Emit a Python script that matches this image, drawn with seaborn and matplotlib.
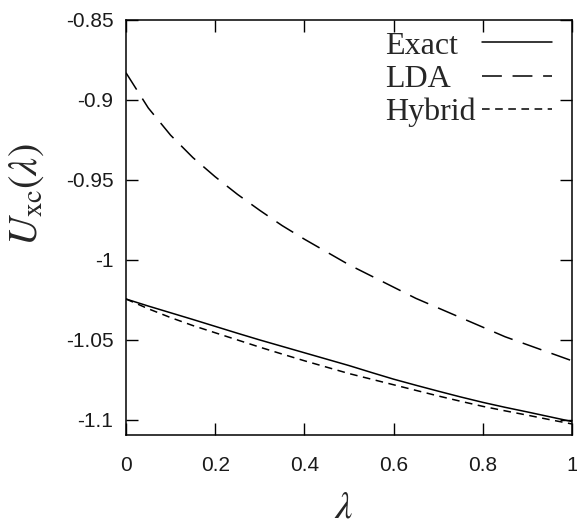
import numpy as np
import pandas as pd
import matplotlib
matplotlib.use("Agg")
import matplotlib.pyplot as plt
import seaborn as sns

# ---- data ----
lam = [0.0, 0.05, 0.1, 0.15, 0.2, 0.25, 0.3, 0.35, 0.4, 0.45, 0.5,
       0.55, 0.6, 0.65, 0.7, 0.75, 0.8, 0.85, 0.9, 0.95, 1.0]
exact = [-1.0244, -1.0288, -1.0330, -1.0372, -1.0415, -1.0458, -1.0500, -1.0540,
         -1.0580, -1.0620, -1.0660, -1.0703, -1.0745, -1.0783, -1.0820, -1.0856,
         -1.0890, -1.0921, -1.0950, -1.0980, -1.1010]
lda = [-0.883, -0.905, -0.922, -0.936, -0.948, -0.959, -0.969, -0.9785, -0.987,
       -0.995, -1.003, -1.010, -1.017, -1.024, -1.030, -1.036, -1.042, -1.048,
       -1.053, -1.058, -1.063]
hybrid = [-1.0244, -1.0305, -1.0360, -1.0410, -1.0455, -1.0500, -1.0545, -1.0588,
          -1.0630, -1.0670, -1.0710, -1.0745, -1.0780, -1.0815, -1.0850, -1.0883,
          -1.0915, -1.0943, -1.0970, -1.0998, -1.1025]
series_names = ["Exact", "LDA", "Hybrid"]
xticks = [0, 0.2, 0.4, 0.6, 0.8, 1]
xtick_labels = ["0", "0.2", "0.4", "0.6", "0.8", "1"]
yticks = [-0.85, -0.9, -0.95, -1.0, -1.05, -1.1]
ytick_labels = ["-0.85", "-0.9", "-0.95", "-1", "-1.05", "-1.1"]

df = pd.DataFrame({
    "lam": lam * 3,
    "U": exact + lda + hybrid,
    "method": [series_names[0]] * len(lam) + [series_names[1]] * len(lam) + [series_names[2]] * len(lam),
})

sns.set_theme(style="ticks")
plt.rcParams["font.family"] = ["Liberation Sans", "DejaVu Sans"]
plt.rcParams["mathtext.fontset"] = "stix"
plt.rcParams["axes.unicode_minus"] = False

fig = plt.figure(figsize=(5.77, 5.27), dpi=100)
ax = fig.add_axes([126 / 577, 1 - 435 / 527, 446 / 577, 415 / 527])

dash_styles = {"Exact": "", "LDA": (13, 7), "Hybrid": (5, 3.6)}
sns.lineplot(data=df, x="lam", y="U", hue="method", style="method",
             hue_order=series_names, style_order=series_names,
             palette=["black", "black", "black"], dashes=dash_styles,
             linewidth=1.1, ax=ax, legend=True)

ax.set_xlim(0, 1)
ax.set_ylim(-1.1094, -0.85)
ax.set_xticks(xticks)
ax.set_xticklabels(xtick_labels)
ax.set_yticks(yticks)
ax.set_yticklabels(ytick_labels)
ax.tick_params(axis="both", direction="in", length=8.6, width=1.0, color="black",
               labelsize=15, labelcolor="#1a1a1a", top=True, right=True)
ax.tick_params(axis="x", pad=15)
ax.tick_params(axis="y", pad=9)
for s in ax.spines.values():
    s.set_linewidth(1.1)
    s.set_color("black")
ax.set_xlabel("")
ax.set_ylabel("")

fig.text(344 / 577, 1 - 507 / 527, r"$\lambda$", fontsize=28, ha="center", va="center")
fig.text(27 / 577, 1 - 195 / 527, r"$U_{\mathrm{xc}}(\lambda)$", fontsize=29,
         rotation=90, ha="center", va="center")

handles, labels = ax.get_legend_handles_labels()
leg = ax.legend(handles, labels, loc="upper right", bbox_to_anchor=(0.955, 0.973),
                frameon=False, markerfirst=False, borderaxespad=0, borderpad=0,
                handlelength=2.2, handletextpad=0.2, labelspacing=0.12,
                prop={"family": "Liberation Serif", "size": 23})

# left-justify legend texts like the reference
fig.canvas.draw()
r = fig.canvas.get_renderer()
widths = [t.get_window_extent(r).width for t in leg.get_texts()]
mw = max(widths)
for t, w in zip(leg.get_texts(), widths):
    x0, y0 = t.get_position()
    t.set_position((x0 - (mw - w), y0))

fig.savefig("out.png", dpi=100)
